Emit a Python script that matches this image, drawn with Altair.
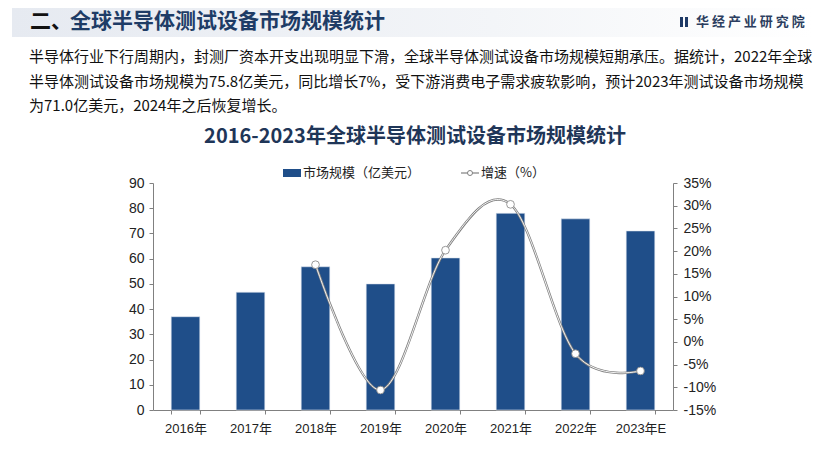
import altair as alt
import pandas as pd

years = ["2016年", "2017年", "2018年", "2019年", "2020年", "2021年", "2022年", "2023年E"]
market = [37.0, 46.7, 56.8, 50.0, 60.3, 78.0, 75.8, 71.0]
growth_years = ["2018年", "2019年", "2020年", "2021年", "2022年", "2023年E"]
growth = [17.0, -10.6, 20.2, 30.3, -2.6, -6.4]
left_ticks = [0, 10, 20, 30, 40, 50, 60, 70, 80, 90]
right_ticks = [-15, -10, -5, 0, 5, 10, 15, 20, 25, 30, 35]

header_title = "全球半导体测试设备市场规模统计"
para = [
    "半导体行业下行周期内，封测厂资本开支出现明显下滑，全球半导体测试设备市场规模短期承压。据统计，2022年全球",
    "半导体测试设备市场规模为75.8亿美元，同比增长7%，受下游消费电子需求疲软影响，预计2023年测试设备市场规模",
    "为71.0亿美元，2024年之后恢复增长。",
]
chart_title = "2016-2023年全球半导体测试设备市场规模统计"
legend_bar = "市场规模（亿美元）"
legend_line = "增速（%）"
logo = "华 经 产 业 研 究 院"

BAR = "#1F4E89"
GRAY = "#808080"
FONT = "Liberation Sans, Noto Sans CJK SC"
CJK = "Noto Sans CJK SC"

bar_df = pd.DataFrame({"year": years, "market": market})
line_df = pd.DataFrame({"year": growth_years, "growth": growth})

x_enc = alt.X("year:N", sort=years, title=None,
              scale=alt.Scale(paddingInner=0.56, paddingOuter=0.28),
              axis=alt.Axis(labelAngle=0, labelFont=FONT, labelFontSize=13, labelColor="#222",
                            labelPadding=8, domainColor=GRAY, tickColor=GRAY, tickSize=4,
                            tickBand="extent"))

bars = alt.Chart(bar_df).mark_bar(color=BAR, stroke="#dfe6f0", strokeWidth=0.6).encode(
    x=x_enc,
    y=alt.Y("market:Q", title=None,
            scale=alt.Scale(domain=[0, 90], nice=False),
            axis=alt.Axis(values=left_ticks, orient="left", labelFont=FONT, labelFontSize=14,
                          labelColor="#222", domainColor=GRAY, tickColor=GRAY, tickSize=4,
                          grid=False, labelPadding=5)),
)

yscale = alt.Scale(domain=[-15, 35], nice=False)
yline = alt.Y("growth:Q", title=None, scale=yscale,
              axis=alt.Axis(values=right_ticks, orient="right", labelExpr="datum.value + '%'",
                            labelFont=FONT, labelFontSize=14, labelColor="#222",
                            domainColor=GRAY, tickColor=GRAY, tickSize=4, grid=False,
                            labelPadding=6))

line_outer = alt.Chart(line_df).mark_line(color=GRAY, strokeWidth=2.4, interpolate="cardinal").encode(
    x=alt.X("year:N", sort=years), y=yline)
line_inner = alt.Chart(line_df).mark_line(color="#ffffff", strokeWidth=0.9, interpolate="cardinal").encode(
    x=alt.X("year:N", sort=years), y=alt.Y("growth:Q", axis=None, scale=yscale))
pts = alt.Chart(line_df).mark_point(shape="circle", size=60, filled=True, fill="#ffffff",
                                     stroke=GRAY, strokeWidth=0.8, opacity=1).encode(
    x=alt.X("year:N", sort=years), y=alt.Y("growth:Q", axis=None, scale=yscale))

one = pd.DataFrame({"a": [0]})

def txt(s, x, y, size, color, weight="normal", align="left", font=CJK):
    d = pd.DataFrame({"t": [s]})
    return alt.Chart(d).mark_text(align=align, baseline="middle", fontSize=size, color=color,
                                  fontWeight=weight, font=font).encode(
        x=alt.value(x), y=alt.value(y), text="t:N")

band = alt.Chart(one).mark_rect(
    fill=alt.Gradient(gradient="linear",
                      stops=[alt.GradientStop(color="#e6eaf1", offset=0),
                             alt.GradientStop(color="#f3f5f8", offset=0.6),
                             alt.GradientStop(color="#ffffff", offset=1)],
                      x1=0, x2=1, y1=0, y2=0)
).encode(x=alt.value(-141), x2=alt.value(660), y=alt.value(-175), y2=alt.value(-146))

icon1 = alt.Chart(one).mark_rect(color="#1e3a66").encode(
    x=alt.value(527), x2=alt.value(530), y=alt.value(-166), y2=alt.value(-156))
icon2 = alt.Chart(one).mark_rect(color="#1e3a66").encode(
    x=alt.value(532), x2=alt.value(535), y=alt.value(-166), y2=alt.value(-156))

leg_rect = alt.Chart(one).mark_rect(color=BAR).encode(
    x=alt.value(130), x2=alt.value(148), y=alt.value(-14), y2=alt.value(-6))
leg_rule = alt.Chart(one).mark_rule(color=GRAY, strokeWidth=1.2).encode(
    x=alt.value(308), x2=alt.value(326), y=alt.value(-10))
leg_pt = alt.Chart(one).mark_point(shape="circle", size=25, filled=True, fill="#ffffff",
                                   stroke=GRAY, strokeWidth=1, opacity=1).encode(
    x=alt.value(317), y=alt.value(-10))

decor = [
    band,
    txt("二、", -123, -161, 21, "#111111", "bold"),
    txt(header_title, -83, -161, 21, "#1e3c66", "bold"),
    icon1, icon2,
    txt(logo, 543, -161, 13, "#2c3e60", "bold"),
    txt(para[0], -124, -126, 15, "#111111"),
    txt(para[1], -124, -101, 15, "#111111"),
    txt(para[2], -124, -77, 15, "#111111"),
    txt(chart_title, 262, -46, 20, "#1f3658", "bold", align="center"),
    leg_rect,
    txt(legend_bar, 150, -10, 13, "#222222"),
    leg_rule, leg_pt,
    txt(legend_line, 328, -10, 13, "#222222"),
]

chart = alt.layer(bars, line_outer, line_inner, pts, *decor).resolve_scale(
    y="independent"
).properties(
    width=520, height=227,
    autosize=alt.AutoSizeParams(type="none"),
    padding={"left": 153, "top": 183, "right": 158, "bottom": 61},
    background="#ffffff",
).configure_view(stroke=None)

chart.save("out.html", embed_options={"renderer": "svg", "actions": False})
